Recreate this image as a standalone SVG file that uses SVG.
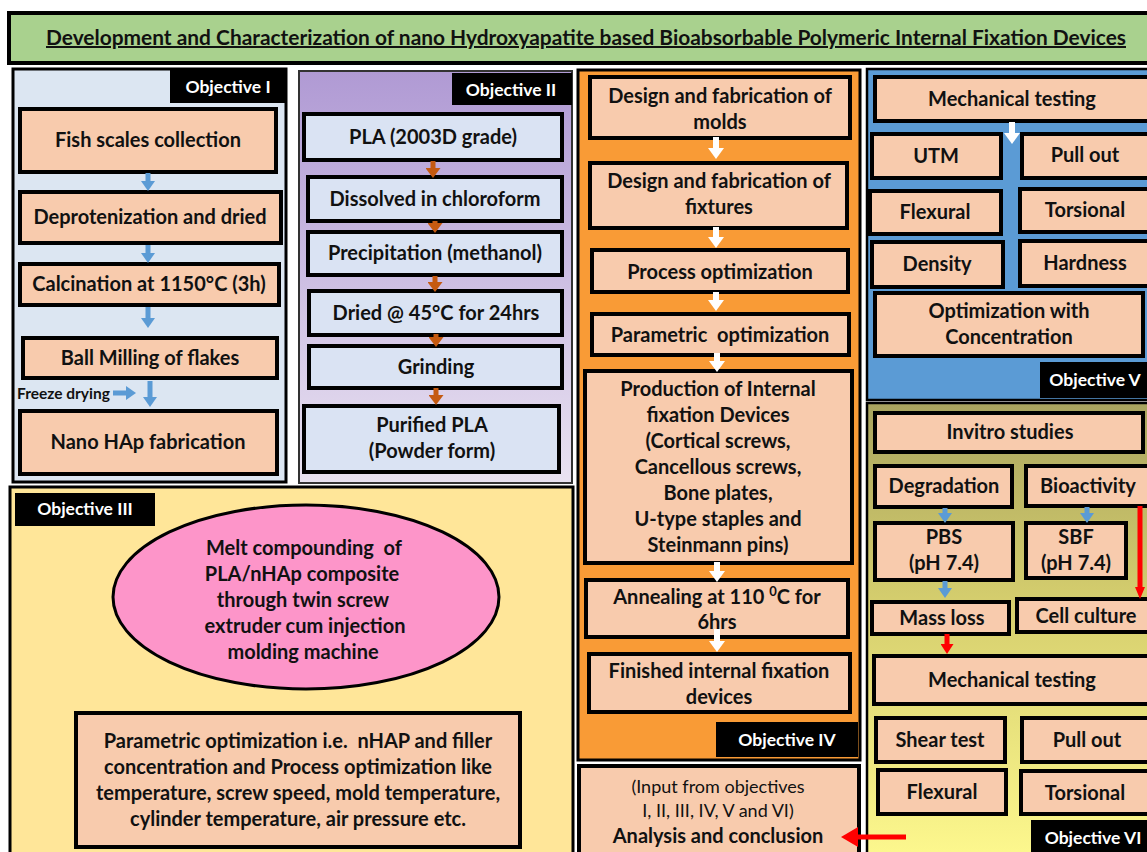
<svg xmlns="http://www.w3.org/2000/svg" width="1147" height="852" viewBox="0 0 1147 852">
  <style>
    text { font-family: Lato, "Liberation Sans", sans-serif; font-weight: bold; font-size: 20px; fill: #111; text-anchor: middle; }
    .pre { white-space: pre; }
    .peach { fill: #f8cbad; stroke: #000; stroke-width: 4; }
    .pale { fill: #dae3f3; stroke: #000; stroke-width: 4; }
    .hdr { fill: #000; }
    .hdrt { fill: #fff; font-size: 17.5px; }
    .small { font-size: 15.5px; text-anchor: start; }
    .reg { font-weight: normal; font-size: 18px; }
    .blue { stroke: #5b9bd5; stroke-width: 5; fill: none; }
    .brown { stroke: #c55a11; stroke-width: 5; fill: none; }
    .white { stroke: #fff; stroke-width: 6; fill: none; }
    .red { stroke: #ff0000; stroke-width: 5; fill: none; }
  </style>
  <defs>
    <marker id="hb" markerUnits="userSpaceOnUse" markerWidth="10" markerHeight="14" viewBox="0 0 10 14" refX="0" refY="7" orient="auto">
      <path d="M0,0 L10,7 L0,14 z" fill="#5b9bd5"/>
    </marker>
    <marker id="hbr" markerUnits="userSpaceOnUse" markerWidth="10" markerHeight="15" viewBox="0 0 10 15" refX="0" refY="7.5" orient="auto">
      <path d="M0,0 L10,7.5 L0,15 z" fill="#c55a11"/>
    </marker>
    <marker id="hw" markerUnits="userSpaceOnUse" markerWidth="11" markerHeight="16" viewBox="0 0 11 16" refX="0" refY="8" orient="auto">
      <path d="M0,0 L11,8 L0,16 z" fill="#fff"/>
    </marker>
    <marker id="hr" markerUnits="userSpaceOnUse" markerWidth="10" markerHeight="13" viewBox="0 0 10 13" refX="0" refY="6.5" orient="auto">
      <path d="M0,0 L10,6.5 L0,13 z" fill="#ff0000"/>
    </marker>
    <marker id="hrt" markerUnits="userSpaceOnUse" markerWidth="12" markerHeight="10" viewBox="0 0 12 10" refX="0" refY="5" orient="auto">
      <path d="M0,0 L12,5 L0,10 z" fill="#ff0000"/>
    </marker>
    <marker id="hrb" markerUnits="userSpaceOnUse" markerWidth="17" markerHeight="20" viewBox="0 0 17 20" refX="0" refY="10" orient="auto">
      <path d="M0,0 L17,10 L0,20 z" fill="#ff0000"/>
    </marker>
    <linearGradient id="g2" x1="0" y1="0" x2="0" y2="1">
      <stop offset="0" stop-color="#b09ad4"/>
      <stop offset="1" stop-color="#e9e2f1"/>
    </linearGradient>
    <linearGradient id="g6" x1="0" y1="0" x2="0" y2="1">
      <stop offset="0" stop-color="#a9a45f"/>
      <stop offset="0.45" stop-color="#d6cf6e"/>
      <stop offset="1" stop-color="#fdf88e"/>
    </linearGradient>
  </defs>

  <rect width="1147" height="852" fill="#fff"/>

  <!-- title bar -->
  <g id="title">
    <rect x="9" y="13" width="1145" height="50" fill="#a9d18e" stroke="#000" stroke-width="4"/>
    <text x="586" y="45" font-size="20" text-decoration="underline" textLength="1080" lengthAdjust="spacingAndGlyphs">Development and Characterization of nano Hydroxyapatite based Bioabsorbable Polymeric Internal Fixation Devices</text>
  </g>

  <!-- Objective I : nano HAp from fish scales -->
  <g id="objective1">
    <rect x="13" y="69" width="273" height="413" fill="#dce6f2" stroke="#000" stroke-width="3"/>
    <rect class="hdr" x="170" y="70" width="117" height="33"/>
    <text class="hdrt" x="228" y="93">Objective I</text>
  </g>
  <g id="fish"><rect class="peach" x="20" y="109" width="256" height="63"/><text x="148" y="147">Fish scales collection</text></g>
  <g id="deprot"><rect class="peach" x="20" y="192" width="261" height="51"/><text x="150" y="224">Deprotenization and dried</text></g>
  <g id="calcination"><rect class="peach" x="20" y="264" width="259" height="41"/><text x="149" y="291">Calcination at 1150°C (3h)</text></g>
  <g id="ballmill"><rect class="peach" x="23" y="338" width="254" height="40"/><text x="150" y="365">Ball Milling of flakes</text></g>
  <g id="nanohap"><rect class="peach" x="20" y="411" width="257" height="63"/><text x="148" y="449">Nano HAp fabrication</text></g>
  <g id="freeze"><text class="small" x="17" y="399">Freeze drying</text></g>

  <!-- Objective II : PLA purification -->
  <g id="objective2">
    <rect x="299" y="71" width="273" height="412" fill="url(#g2)" stroke="#333" stroke-width="2"/>
    <rect class="hdr" x="452" y="73" width="120" height="32"/>
    <text class="hdrt" x="511" y="96">Objective II</text>
  </g>
  <g id="pla"><rect class="pale" x="304" y="114" width="258" height="46"/><text x="433" y="144">PLA (2003D grade)</text></g>
  <g id="dissolve"><rect class="pale" x="308" y="177" width="254" height="44"/><text x="435" y="206">Dissolved in chloroform</text></g>
  <g id="precip"><rect class="pale" x="308" y="232" width="254" height="43"/><text x="435" y="260">Precipitation (methanol)</text></g>
  <g id="dry"><rect class="pale" x="309" y="291" width="253" height="44"/><text x="436" y="320">Dried @ 45°C for 24hrs</text></g>
  <g id="grind"><rect class="pale" x="309" y="346" width="253" height="42"/><text x="436" y="374">Grinding</text></g>
  <g id="purified"><rect class="pale" x="304" y="406" width="255" height="66"/><text x="432" y="432">Purified PLA</text><text x="432" y="458">(Powder form)</text></g>

  <!-- Objective III : compounding -->
  <g id="objective3">
    <rect x="10" y="487" width="563" height="370" fill="#ffe699" stroke="#000" stroke-width="3"/>
    <rect class="hdr" x="15" y="493" width="140" height="33"/>
    <text class="hdrt" x="85" y="515">Objective III</text>
  </g>
  <g id="melt">
    <ellipse cx="306" cy="597" rx="193" ry="92" fill="#fd95c9" stroke="#000" stroke-width="3"/>
    <text class="pre" x="304" y="555">Melt compounding  of</text>
    <text x="302" y="581">PLA/nHAp composite</text>
    <text x="303" y="607">through twin screw</text>
    <text x="305" y="633">extruder cum injection</text>
    <text x="303" y="659">molding machine</text>
  </g>
  <g id="paramopt">
    <rect class="peach" x="76" y="713" width="444" height="134"/>
    <text class="pre" x="298" y="748">Parametric optimization i.e.  nHAP and filler</text>
    <text x="298" y="774">concentration and Process optimization like</text>
    <text x="298" y="800">temperature, screw speed, mold temperature,</text>
    <text x="298" y="826">cylinder temperature, air pressure etc.</text>
  </g>

  <!-- Objective IV : device fabrication -->
  <g id="objective4">
    <rect x="578" y="70" width="282" height="690" fill="#f99b36" stroke="#000" stroke-width="3"/>
    <rect class="hdr" x="716" y="722" width="142" height="35"/>
    <text class="hdrt" x="787" y="746">Objective IV</text>
  </g>
  <g id="molds"><rect class="peach" x="590" y="77" width="260" height="61"/><text x="720" y="103">Design and fabrication of</text><text x="720" y="129">molds</text></g>
  <g id="fixtures"><rect class="peach" x="590" y="163" width="257" height="65"/><text x="719" y="188">Design and fabrication of</text><text x="719" y="214">fixtures</text></g>
  <g id="procopt"><rect class="peach" x="592" y="250" width="256" height="42"/><text x="720" y="279">Process optimization</text></g>
  <g id="paramopt4"><rect class="peach" x="592" y="314" width="257" height="41"/><text class="pre" x="720" y="342">Parametric  optimization</text></g>
  <g id="production">
    <rect class="peach" x="585" y="371" width="267" height="192"/>
    <text x="718" y="396">Production of Internal</text>
    <text x="718" y="422">fixation Devices</text>
    <text x="718" y="448">(Cortical screws,</text>
    <text x="718" y="474">Cancellous screws,</text>
    <text x="718" y="500">Bone plates,</text>
    <text x="718" y="526">U-type staples and</text>
    <text x="718" y="552">Steinmann pins)</text>
  </g>
  <g id="annealing"><rect class="peach" x="586" y="580" width="262" height="57"/><text x="717" y="604">Annealing at 110 <tspan font-size="13" dy="-8">0</tspan><tspan dy="8">C for</tspan></text><text x="717" y="629">6hrs</text></g>
  <g id="finished"><rect class="peach" x="589" y="654" width="261" height="58"/><text x="719" y="678">Finished internal fixation</text><text x="719" y="704">devices</text></g>

  <g id="analysis">
    <rect x="579" y="766" width="280" height="92" fill="#f8cbad" stroke="#000" stroke-width="4"/>
    <text class="reg" x="718" y="793">(Input from objectives</text>
    <text class="reg" x="718" y="817">I, II, III, IV, V and VI)</text>
    <text x="718" y="843" font-size="21.5">Analysis and conclusion</text>
  </g>

  <!-- Objective V : mechanical testing -->
  <g id="objective5">
    <rect x="867" y="69" width="285" height="331" fill="#5b9bd5" stroke="#000" stroke-width="2.5"/>
    <rect class="hdr" x="1040" y="362" width="110" height="36"/>
    <text class="hdrt" x="1095" y="386">Objective V</text>
  </g>
  <g id="mech5"><rect class="peach" x="875" y="77" width="275" height="44"/><text x="1012" y="106">Mechanical testing</text></g>
  <g id="utm"><rect class="peach" x="872" y="134" width="129" height="44"/><text x="936" y="163">UTM</text></g>
  <g id="pull5"><rect class="peach" x="1022" y="134" width="130" height="44"/><text x="1085" y="162">Pull out</text></g>
  <g id="flex5"><rect class="peach" x="870" y="191" width="131" height="43"/><text x="935" y="219">Flexural</text></g>
  <g id="tors5"><rect class="peach" x="1020" y="189" width="130" height="43"/><text x="1085" y="217">Torsional</text></g>
  <g id="density"><rect class="peach" x="872" y="242" width="131" height="45"/><text x="937" y="271">Density</text></g>
  <g id="hardness"><rect class="peach" x="1020" y="241" width="130" height="45"/><text x="1085" y="270">Hardness</text></g>
  <g id="optconc"><rect class="peach" x="875" y="293" width="268" height="63"/><text x="1009" y="318">Optimization with</text><text x="1009" y="344">Concentration</text></g>

  <!-- Objective VI : in vitro studies -->
  <g id="objective6">
    <rect x="867" y="403" width="285" height="455" fill="url(#g6)" stroke="#000" stroke-width="2.5"/>
    <rect class="hdr" x="1031" y="820" width="120" height="36"/>
    <text class="hdrt" x="1093" y="844">Objective VI</text>
  </g>
  <g id="invitro"><rect class="peach" x="875" y="413" width="268" height="39"/><text x="1010" y="439">Invitro studies</text></g>
  <g id="degradation"><rect class="peach" x="875" y="466" width="137" height="41"/><text x="944" y="493">Degradation</text></g>
  <g id="bioactivity"><rect class="peach" x="1026" y="466" width="125" height="40"/><text x="1088" y="493">Bioactivity</text></g>
  <g id="pbs"><rect class="peach" x="875" y="523" width="138" height="57"/><text x="944" y="544">PBS</text><text x="944" y="570">(pH 7.4)</text></g>
  <g id="sbf"><rect class="peach" x="1026" y="523" width="100" height="55"/><text x="1076" y="544">SBF</text><text x="1076" y="570">(pH 7.4)</text></g>
  <g id="massloss"><rect class="peach" x="872" y="602" width="137" height="32"/><text x="942" y="625">Mass loss</text></g>
  <g id="cellculture"><rect class="peach" x="1017" y="599" width="132" height="33"/><text x="1086" y="623">Cell culture</text></g>
  <g id="mech6"><rect class="peach" x="874" y="656" width="275" height="48"/><text x="1012" y="687">Mechanical testing</text></g>
  <g id="shear"><rect class="peach" x="876" y="718" width="129" height="44"/><text x="940" y="747">Shear test</text></g>
  <g id="pull6"><rect class="peach" x="1022" y="718" width="128" height="44"/><text x="1087" y="747">Pull out</text></g>
  <g id="flex6"><rect class="peach" x="878" y="770" width="128" height="44"/><text x="942" y="799">Flexural</text></g>
  <g id="tors6"><rect class="peach" x="1021" y="771" width="128" height="43"/><text x="1085" y="800">Torsional</text></g>

  <!-- connectors -->
  <g id="connectors">
    <!-- Objective I flow -->
    <line class="blue" x1="148" y1="173" x2="148" y2="181" marker-end="url(#hb)"/>
    <line class="blue" x1="148" y1="245" x2="148" y2="253" marker-end="url(#hb)"/>
    <line class="blue" x1="148" y1="307" x2="148" y2="318" marker-end="url(#hb)"/>
    <line class="blue" x1="150" y1="381" x2="150" y2="397" marker-end="url(#hb)"/>
    <line class="blue" x1="113" y1="393" x2="126" y2="393" stroke-width="4" marker-end="url(#hb)"/>
    <!-- Objective II flow -->
    <line class="brown" x1="433" y1="161" x2="433" y2="168" marker-end="url(#hbr)"/>
    <line class="brown" x1="435" y1="221" x2="435" y2="223" marker-end="url(#hbr)"/>
    <line class="brown" x1="435" y1="276" x2="435" y2="282" marker-end="url(#hbr)"/>
    <line class="brown" x1="436" y1="334" x2="436" y2="337" marker-end="url(#hbr)"/>
    <line class="brown" x1="436" y1="388" x2="436" y2="395" marker-end="url(#hbr)"/>
    <!-- Objective IV flow -->
    <line class="white" x1="716" y1="137" x2="716" y2="148" marker-end="url(#hw)"/>
    <line class="white" x1="716" y1="227" x2="716" y2="237" marker-end="url(#hw)"/>
    <line class="white" x1="716" y1="292" x2="716" y2="300" marker-end="url(#hw)"/>
    <line class="white" x1="717" y1="353" x2="717" y2="361" marker-end="url(#hw)"/>
    <line class="white" x1="717" y1="562" x2="717" y2="571" marker-end="url(#hw)"/>
    <line class="white" x1="717" y1="629" x2="717" y2="641" marker-end="url(#hw)"/>
    <!-- Objective V -->
    <line class="white" x1="1012" y1="122" x2="1012" y2="133" marker-end="url(#hw)"/>
    <!-- Objective VI -->
    <line class="blue" x1="945" y1="508" x2="945" y2="513" marker-end="url(#hb)"/>
    <line class="blue" x1="1087" y1="507" x2="1087" y2="513" marker-end="url(#hb)"/>
    <line class="blue" x1="945" y1="581" x2="945" y2="588" marker-end="url(#hb)"/>
    <line class="red" x1="1140" y1="506" x2="1140" y2="587" stroke-width="3" marker-end="url(#hrt)"/>
    <line class="red" x1="947" y1="634" x2="947" y2="644" marker-end="url(#hr)"/>
    <!-- into analysis -->
    <line class="red" x1="906" y1="837" x2="858" y2="837" stroke-width="9" marker-end="url(#hrb)"/>
  </g>
</svg>
